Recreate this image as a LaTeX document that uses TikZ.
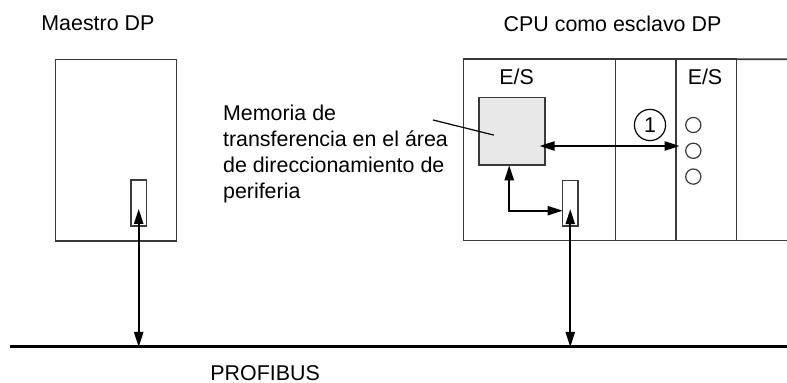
\documentclass[tikz,border=0pt]{standalone}
\usepackage{fontspec}
\setmainfont{Liberation Sans}
\usetikzlibrary{arrows.meta, positioning, calc}
\definecolor{framegray}{HTML}{3A3A3A}
\definecolor{memgray}{HTML}{E8E8E8}

\begin{document}
\begin{tikzpicture}[
		x=0.5pt, y=-0.5pt,
		>={Triangle[length=7.5pt, width=4.6pt]},
		font=\fontsize{10.7}{13}\selectfont,
		frame/.style={draw=framegray, line width=0.8pt, inner sep=0pt, outer sep=0pt},
		port/.style={frame, minimum width=7.6pt, minimum height=22.8pt},
		led/.style={circle, draw=framegray, line width=0.6pt, minimum size=7.6pt, inner sep=0pt},
		arr/.style={<->, line width=0.9pt},
		bus/.style={line width=1.5pt},
		lbl/.style={inner sep=0pt},
	]
		\useasboundingbox (0,0) rectangle (787,383);

		% Master
		\node[lbl, anchor=base west] (mtitle) at (41,31) {Maestro DP};
		\node[frame, minimum width=60.5pt, minimum height=90.75pt] (master) at (116,150.25) {};
		\node[port] (mport) at (138.7,203) {};

		% CPU as slave with its modules
		\node[lbl, anchor=base west] (stitle) at (503.3,31.7) {CPU como esclavo DP};
		\node[frame, minimum width=76pt, minimum height=90.7pt] (cpu) at (539.3,150) {};
		\node[frame, minimum width=30.35pt, minimum height=90.7pt] (mod2) at (645.65,150) {};
		\node[frame, minimum width=30.15pt, minimum height=90.7pt] (mod3) at (706.15,150) {};
		\coordinate (rackNE) at (787,59.3);
		\coordinate (rackSE) at (787,240.7);
		\draw[framegray, line width=0.8pt] (mod3.north east) -- (rackNE);
		\draw[framegray, line width=0.8pt] (mod3.south east) -- (rackSE);

		\node[lbl, anchor=base] (es1) at (516.7,84.3) {E/S};
		\node[lbl, anchor=base] (es2) at (705,84.3) {E/S};

		\node[frame, fill=memgray, minimum width=32.85pt, minimum height=33.8pt] (mem) at (511.85,131.5) {};
		\node[port] (cport) at (570.25,203.2) {};

		\foreach \i/\y in {1/125, 2/150.8, 3/176.6}
			\node[led] (led\i) at (693.3,\y) {};
		\node[circle, draw=black, line width=0.6pt, minimum size=15.6pt, inner sep=0pt] (one) at (650,125) {1};

		% Text with leader line
		\node[lbl, anchor=north west, align=left] (memtxt) at (222.7,104.5)
			{Memoria de\\transferencia en el área\\de direccionamiento de\\periferia};
		\coordinate (lead) at (433,120);
		\draw[line width=0.6pt] (lead) -- ($(mem.center)+(-18,3.6)$);

		% Bus
		\coordinate (busL) at (10.3,347);
		\coordinate (busR) at (787,347);
		\draw[bus] (busL) -- (busR);
		\node[lbl, anchor=base west] (profibus) at (210,380.5) {PROFIBUS};

		% Arrows
		\draw[arr, shorten <=3pt] (mport.center) -- (mport |- busL);
		\draw[arr, shorten <=3pt] (cport.center) -- (cport |- busL);
		\draw[arr] ($(mem.east)+(-5,14.5)$) -- ($(led2.west)+(-5.5,-4.8)$);
		\draw[arr] ($(mem.south west)!0.46!(mem.south east)$) |- ($(cport.west)+(0,7.5)$);
	\end{tikzpicture}
\end{document}
